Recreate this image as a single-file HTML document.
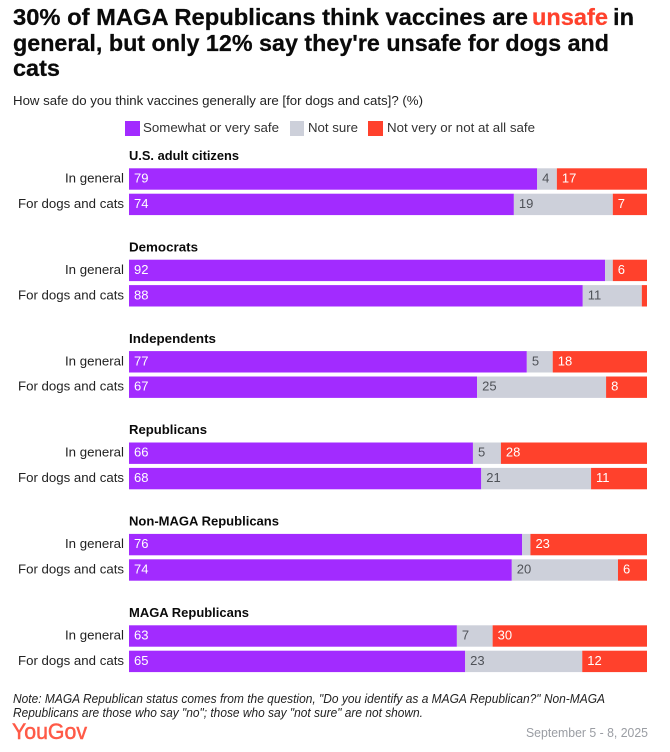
<!DOCTYPE html>
<html>
<head>
<meta charset="utf-8">
<title>Vaccine safety chart</title>
<style>
html,body{margin:0;padding:0;background:#fff;width:670px;height:752px;overflow:hidden}
svg{display:block}
text{font-family:"Liberation Sans",sans-serif}
</style>
</head>
<body>
<svg id="chart" width="670" height="752" viewBox="0 0 670 752" xmlns="http://www.w3.org/2000/svg">
  <rect x="0" y="0" width="670" height="752" fill="#fff"/>
  <g font-size="23.5" font-weight="700" fill="#0a0a0a" stroke="#0a0a0a" stroke-width="0.25">
    <text x="13" y="25" textLength="515" lengthAdjust="spacingAndGlyphs">30% of MAGA Republicans think vaccines are</text>
    <text x="532" y="25" textLength="76" lengthAdjust="spacingAndGlyphs" fill="#ff412c" stroke="#ff412c">unsafe</text>
    <text x="613" y="25" textLength="21" lengthAdjust="spacingAndGlyphs">in</text>
    <text x="13" y="51" textLength="596" lengthAdjust="spacingAndGlyphs">general, but only 12% say they're unsafe for dogs and</text>
    <text x="13" y="76" textLength="47" lengthAdjust="spacingAndGlyphs">cats</text>
  </g>
  <text x="13" y="105" font-size="13" fill="#222" textLength="410" lengthAdjust="spacingAndGlyphs">How safe do you think vaccines generally are [for dogs and cats]? (%)</text>
  <g font-size="13" fill="#333">
    <rect x="125" y="121" width="15" height="15" fill="#a22bff"/>
    <text x="143" y="132" textLength="136" lengthAdjust="spacingAndGlyphs">Somewhat or very safe</text>
    <rect x="290" y="121" width="14" height="15" fill="#cdd0da"/>
    <text x="308" y="132" textLength="50" lengthAdjust="spacingAndGlyphs">Not sure</text>
    <rect x="368" y="121" width="15" height="15" fill="#ff412c"/>
    <text x="387" y="132" textLength="148" lengthAdjust="spacingAndGlyphs">Not very or not at all safe</text>
  </g>
  <g id="plot"></g>
  <g font-size="12.5" font-style="italic" fill="#222">
    <text x="13" y="703" textLength="592" lengthAdjust="spacingAndGlyphs">Note: MAGA Republican status comes from the question, "Do you identify as a MAGA Republican?" Non-MAGA</text>
    <text x="13" y="717" textLength="410" lengthAdjust="spacingAndGlyphs">Republicans are those who say "no"; those who say "not sure" are not shown.</text>
  </g>
  <text x="12" y="739" font-size="22" fill="#ff5a47" stroke="#ff5a47" stroke-width="0.5" textLength="75" lengthAdjust="spacingAndGlyphs">YouGov</text>
  <text x="526" y="737" font-size="13" fill="#9a9da3" textLength="122" lengthAdjust="spacingAndGlyphs">September 5 - 8, 2025</text>
</svg>
<script>
const groups = ["U.S. adult citizens", "Democrats", "Independents", "Republicans", "Non-MAGA Republicans", "MAGA Republicans"];
const rowLabels = ["In general", "For dogs and cats"];
// Bar lengths, [general, dogs and cats] per group
const safeValues = [[78.8, 74.3], [91.9, 87.6], [76.8, 67.2], [66.4, 68.0], [75.9, 73.9], [63.3, 64.9]];
const notSureValues = [[3.8, 19.1], [1.5, 11.4], [5.0, 24.9], [5.4, 21.2], [1.6, 20.5], [6.9, 22.6]];
const unsafeValues = [[17.4, 6.6], [6.6, 1.0], [18.2, 7.9], [28.2, 10.8], [22.5, 5.6], [29.8, 12.5]];
// Printed values; an empty string means no label is shown
const safeLabels = [["79", "74"], ["92", "88"], ["77", "67"], ["66", "68"], ["76", "74"], ["63", "65"]];
const notSureLabels = [["4", "19"], ["", "11"], ["5", "25"], ["5", "21"], ["", "20"], ["7", "23"]];
const unsafeLabels = [["17", "7"], ["6", ""], ["18", "8"], ["28", "11"], ["23", "6"], ["30", "12"]];

const NS = "http://www.w3.org/2000/svg";
const plot = document.getElementById("plot");
const left = 129, plotWidth = 518;
const x = v => left + v / 100 * plotWidth;
const groupTop = i => 168.3 + 91.4 * i;
const rowTop = (i, r) => groupTop(i) + r * 25.4;
const rowHeight = 21.4;
const headerWidths = [110, 69, 87, 78, 150, 120];
const rowLabelWidths = [59, 106];

function svgEl(tag) {
  return document.createElementNS(NS, tag);
}

const segmentSpecs = [
  { values: safeValues, labels: safeLabels, fill: "#a22bff", ink: "#fff", key: "safe" },
  { values: notSureValues, labels: notSureLabels, fill: "#cdd0da", ink: "#4f5258", key: "not-sure" },
  { values: unsafeValues, labels: unsafeLabels, fill: "#ff412c", ink: "#fff", key: "unsafe" }
];

groups.forEach((name, i) => {
  const header = svgEl("text");
  
  
  header.setAttribute("x", left);
  header.setAttribute("y", groupTop(i) - 8.3);
  header.setAttribute("font-size", "12.5");
  header.setAttribute("font-weight", "700");
  header.setAttribute("fill", "#0a0a0a");
  header.setAttribute("textLength", headerWidths[i]);
  header.setAttribute("lengthAdjust", "spacingAndGlyphs");
  header.textContent = name;
  plot.appendChild(header);

  rowLabels.forEach((rowName, r) => {
    const y = rowTop(i, r);
    const rowText = svgEl("text");
    
    
    rowText.setAttribute("x", 124 - rowLabelWidths[r]);
    rowText.setAttribute("y", y + rowHeight / 2 + 3.5);
    rowText.setAttribute("font-size", "13");
    rowText.setAttribute("fill", "#222");
    rowText.setAttribute("textLength", rowLabelWidths[r]);
    rowText.setAttribute("lengthAdjust", "spacingAndGlyphs");
    rowText.textContent = rowName;
    plot.appendChild(rowText);

    let cumulative = 0;
    segmentSpecs.forEach(spec => {
      const v = spec.values[i][r];
      const x0 = x(cumulative);
      const x1 = x(cumulative + v);
      cumulative += v;

      const bar = svgEl("rect");
      
      
      bar.setAttribute("data-series", spec.key);
      bar.setAttribute("x", x0);
      bar.setAttribute("y", y);
      bar.setAttribute("width", x1 - x0);
      bar.setAttribute("height", rowHeight);
      bar.setAttribute("fill", spec.fill);
      plot.appendChild(bar);

      const label = spec.labels[i][r];
      if (label !== "") {
        const valueText = svgEl("text");
        
        
        valueText.setAttribute("x", x0 + 5);
        valueText.setAttribute("y", y + rowHeight / 2 + 3.5);
        valueText.setAttribute("font-size", "13");
        valueText.setAttribute("fill", spec.ink);
        valueText.textContent = label;
        plot.appendChild(valueText);
      }
    });
  });
});
</script>
</body>
</html>
